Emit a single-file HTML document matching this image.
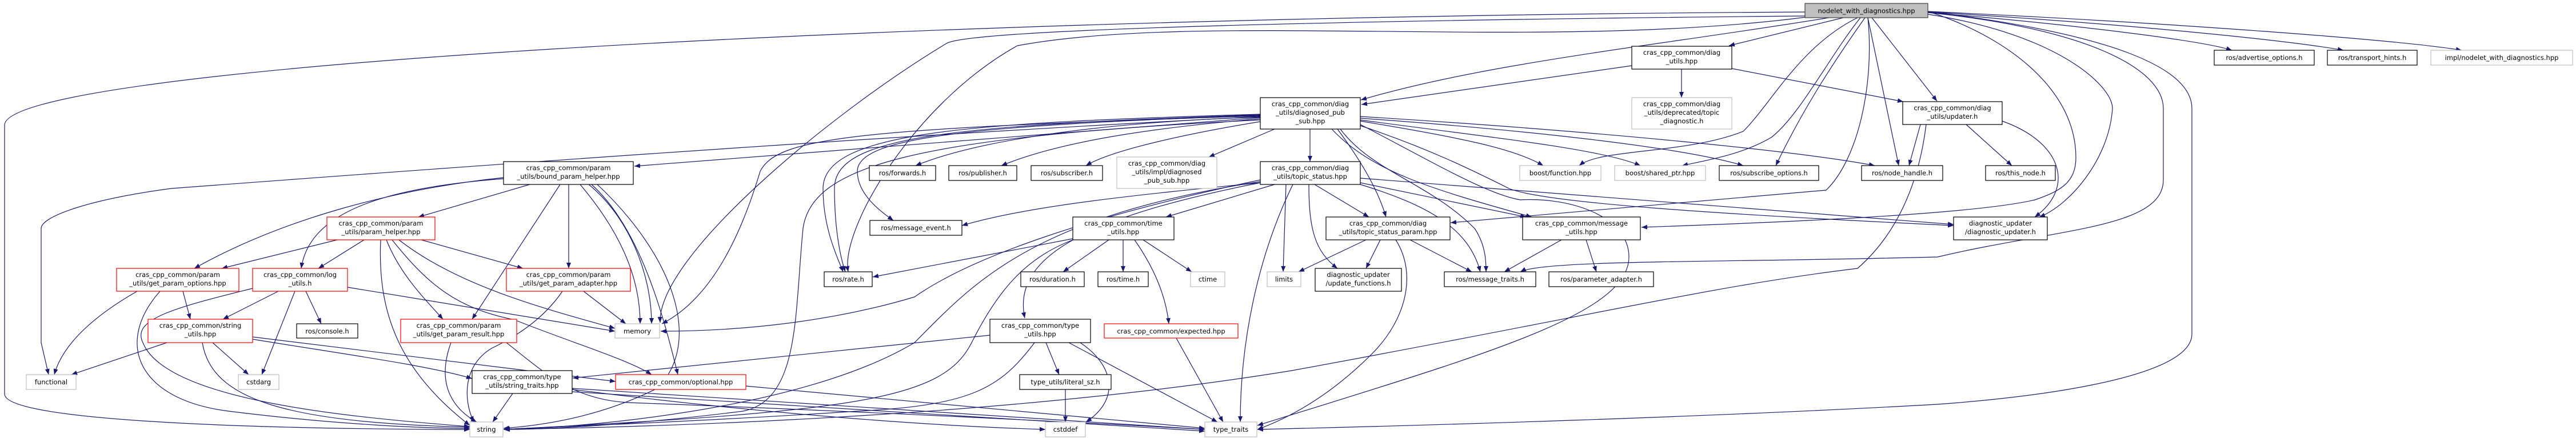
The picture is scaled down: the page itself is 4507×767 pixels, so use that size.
<!DOCTYPE html>
<html><head><meta charset="utf-8"><style>
html,body{margin:0;padding:0;background:#fff;}
svg{display:block;}
text{font-family:"DejaVu Sans","Liberation Sans",sans-serif;font-size:11.5px;fill:#000;text-anchor:middle;}
.e{fill:none;stroke:#191970;stroke-width:1.2;marker-end:url(#ah);}
.b{fill:#fff;stroke:#000;stroke-width:1.2;}
.g{fill:#fff;stroke:#bfbfbf;stroke-width:1.2;}
.r{fill:#fff;stroke:#ff0000;stroke-width:1.2;}
</style></head><body>
<svg width="4507" height="767" viewBox="0 0 4507 767" xmlns="http://www.w3.org/2000/svg">
<defs><marker id="ah" markerUnits="userSpaceOnUse" markerWidth="11" markerHeight="8" refX="10" refY="4" orient="auto"><path d="M0,0 L10,4 L0,8 z" fill="#191970"/></marker></defs>

<!-- edges from nodelet -->
<path class="e" d="M3158,21 C1500,30 0,120 8,220 L8,690 C8,740 500,752 822,752"/>
<path class="e" d="M3158,28 C2400,35 1700,50 1656,76 C1450,200 1150,450 1155,565"/>
<path class="e" d="M3160,30 C2700,90 2100,20 1780,80 C1600,180 1470,400 1484,476"/>
<path class="e" d="M3200,31 C2900,80 2600,110 2381,175"/>
<path class="e" d="M2855,115 L2382,183"/>
<path class="e" d="M3225,31 L3025,80"/>
<path class="e" d="M2942,121 L2942,171"/>
<path class="e" d="M3030,120 L3330,178"/>
<path class="e" d="M3250,31 C3150,80 3100,180 3050,230 C2950,270 2800,260 2763,290"/>
<path class="e" d="M3255,31 C3200,100 3150,200 3100,240 C3050,270 2990,280 2943,290"/>
<path class="e" d="M3263,31 C3200,120 3150,200 3107,290"/>
<path class="e" d="M3268,31 L3322,290"/>
<path class="e" d="M3275,31 L3389,177"/>
<path class="e" d="M3268,31 C3280,150 3250,280 3195,333 L2538,390"/>
<path class="e" d="M3373,20 C3500,60 3632,150 3632,276 C3632,320 3604,335 3560,350 C3450,376 3100,390 2872,398"/>
<path class="e" d="M3373,25 C3600,60 3696,150 3696,190 C3690,280 3620,360 3568,380"/>
<path class="e" d="M3503,212 C3610,250 3630,330 3560,380"/>
<path class="e" d="M3373,22 C3650,50 3785,120 3785,190 L3785,315 C3785,400 3600,400 3390,450 C3000,460 2700,455 2660,476"/>
<path class="e" d="M3373,20 C3700,60 3835,120 3835,190 L3835,585 C3835,670 3500,700 3390,708 C3000,730 2500,745 2200,752"/>
<path class="e" d="M3373,22 C3600,40 3850,70 3905,88"/>
<path class="e" d="M3373,21 C3700,40 4000,70 4100,88"/>
<path class="e" d="M3373,20 C3800,40 4200,70 4307,88"/>
<path class="e" d="M3370,218 C3360,300 3330,400 3250,470 C3000,500 2800,550 2260,649 C1700,740 1000,750 881,752"/>
<path class="e" d="M3360,218 L3340,290"/>
<path class="e" d="M3440,218 L3520,290"/>

<!-- diagnosed_pub_sub -->
<path class="e" d="M2292,226 L2292,283"/>
<path class="e" d="M2205,205 C1900,215 1700,250 1602,290"/>
<path class="e" d="M2205,208 C2000,225 1850,250 1752,290"/>
<path class="e" d="M2205,213 C2100,230 1950,260 1900,290"/>
<path class="e" d="M2230,226 L2115,275"/>
<path class="e" d="M2205,202 C1700,220 1500,240 1500,300 C1500,340 1540,370 1563,386"/>
<path class="e" d="M2205,200 C1700,215 1440,230 1440,330 C1440,400 1465,450 1475,476"/>
<path class="e" d="M2205,201 C1650,220 1460,240 1460,330 C1460,400 1470,450 1479,476"/>
<path class="e" d="M2205,203 C1500,225 1360,240 1330,300 C1300,400 1250,520 1158,567"/>
<path class="e" d="M2205,206 L1110,291"/>
<path class="e" d="M2205,204 C1500,240 700,300 300,330 C150,350 72,380 72,400 L72,600 L85,656"/>
<path class="e" d="M2205,210 C1600,240 1420,290 1405,400 C1390,550 1400,700 1300,720 C1100,745 950,752 882,752"/>
<path class="e" d="M2380,212 C2550,240 2650,260 2700,290"/>
<path class="e" d="M2380,210 C2600,240 2800,260 2870,290"/>
<path class="e" d="M2380,207 C2700,230 2950,260 3050,290"/>
<path class="e" d="M2380,204 C2800,230 3150,265 3280,290"/>
<path class="e" d="M2340,226 C2380,280 2410,330 2425,380"/>
<path class="e" d="M2330,226 C2400,300 2500,330 2680,380"/>
<path class="e" d="M2345,226 C2400,300 2500,320 2580,400 C2600,430 2600,460 2600,476"/>
<path class="e" d="M2380,220 C2500,260 2580,300 2640,330 C2700,355 3000,375 3418,395"/>
<path class="e" d="M2380,218 C2500,280 2600,340 2660,350 C2750,345 2850,380 2850,450 C2850,550 2600,620 2200,745"/>

<!-- topic_status -->
<path class="e" d="M2205,320 C2000,340 1800,360 1683,395"/>
<path class="e" d="M2230,323 L2040,380"/>
<path class="e" d="M2250,323 L2245,476"/>
<path class="e" d="M2290,323 C2290,400 2300,440 2340,470"/>
<path class="e" d="M2300,323 L2395,380"/>
<path class="e" d="M2380,320 L2670,380"/>
<path class="e" d="M2380,323 C2500,360 2570,400 2590,476"/>
<path class="e" d="M2380,312 L3418,393"/>
<path class="e" d="M2262,323 C2200,450 2170,600 2170,739"/>
<path class="e" d="M2205,318 C1800,380 1700,500 1600,600 C1400,720 1000,750 882,752"/>
<path class="e" d="M2205,315 C1900,380 1700,450 1600,520 C1400,580 1200,580 1156,580"/>
<path class="e" d="M2205,320 C1900,380 1770,450 1793,557"/>

<!-- time_utils -->
<path class="e" d="M1877,418 L1527,485"/>
<path class="e" d="M1940,420 L1860,476"/>
<path class="e" d="M1965,420 L1965,476"/>
<path class="e" d="M2000,420 L2085,476"/>
<path class="e" d="M1985,420 C2020,470 2040,520 2045,567"/>
<path class="e" d="M1877,420 C1800,450 1750,500 1700,600 C1650,700 1500,720 882,752"/>

<!-- type_utils -->
<path class="e" d="M1732,587 L1002,662"/>
<path class="e" d="M1810,600 C1750,680 1700,710 1500,720 C1200,740 900,750 882,752"/>
<path class="e" d="M1830,600 L1853,656"/>
<path class="e" d="M1890,600 C1950,640 1960,700 1900,739"/>
<path class="e" d="M1870,600 L2130,739"/>
<path class="e" d="M1864,682 L1864,739"/>
<path class="e" d="M2058,592 L2140,739"/>

<!-- topic_status_param / message_utils -->
<path class="e" d="M2390,420 L2272,476"/>
<path class="e" d="M2415,420 L2390,470"/>
<path class="e" d="M2467,420 L2575,476"/>
<path class="e" d="M2442,420 C2480,480 2460,560 2400,620 C2330,690 2260,730 2200,752"/>
<path class="e" d="M2732,420 L2632,476"/>
<path class="e" d="M2775,420 L2793,476"/>

<!-- bound_param_helper -->
<path class="e" d="M927,323 L732,380"/>
<path class="e" d="M881,311 C700,330 500,380 340,470"/>
<path class="e" d="M881,313 C650,330 540,380 527,470"/>
<path class="e" d="M995,323 L995,470"/>
<path class="e" d="M980,323 L826,559"/>
<path class="e" d="M1015,323 C1080,400 1120,480 1120,567"/>
<path class="e" d="M1030,323 C1100,380 1140,480 1140,567"/>
<path class="e" d="M1035,323 C1120,400 1160,550 1186,656"/>
<path class="e" d="M1045,323 C1180,450 1230,600 1150,680 C1050,730 950,745 881,750"/>

<!-- param_helper -->
<path class="e" d="M590,420 L388,470"/>
<path class="e" d="M637,420 L557,470"/>
<path class="e" d="M737,420 L915,470"/>
<path class="e" d="M676,420 C700,480 740,520 775,559"/>
<path class="e" d="M698,420 C800,500 950,540 1076,575"/>
<path class="e" d="M686,420 C750,500 800,540 900,560 C1000,600 1100,630 1140,656"/>
<path class="e" d="M666,420 C660,550 700,650 822,745"/>

<!-- get_param_options / log_utils / adapter -->
<path class="e" d="M240,510 C170,550 110,600 95,656"/>
<path class="e" d="M320,510 L333,559"/>
<path class="e" d="M280,510 C200,600 240,700 400,720 C600,745 750,750 822,750"/>
<path class="e" d="M487,510 L390,559"/>
<path class="e" d="M516,510 L458,656"/>
<path class="e" d="M535,510 L562,567"/>
<path class="e" d="M608,503 L1076,580"/>
<path class="e" d="M442,505 C300,540 230,560 250,600 C290,700 600,730 822,747"/>
<path class="e" d="M1021,510 L1095,567"/>
<path class="e" d="M984,510 C950,560 901,590 860,610 C810,640 810,700 829,739"/>

<!-- string_utils / result / traits / optional -->
<path class="e" d="M292,600 L125,656"/>
<path class="e" d="M372,600 L435,656"/>
<path class="e" d="M354,600 C370,700 500,740 822,748"/>
<path class="e" d="M442,594 C600,620 750,640 826,663"/>
<path class="e" d="M442,590 L1077,668"/>
<path class="e" d="M789,600 C760,680 800,720 834,739"/>
<path class="e" d="M886,600 C950,650 1000,700 1100,705 C1500,720 1900,740 2108,752"/>
<path class="e" d="M897,689 L862,739"/>
<path class="e" d="M1001,682 C1300,720 1600,745 1829,752"/>
<path class="e" d="M1001,680 L2108,752"/>
<path class="e" d="M1001,686 L2108,755"/>
<path class="e" d="M1305,676 L2108,750"/>

<!-- nodes -->
<rect x="3158" y="6" width="215" height="25" fill="#bfbfbf" stroke="#404040" stroke-width="1.2"/><text x="3265.5" y="23">nodelet_with_diagnostics.hpp</text>
<rect class="b" x="2855" y="81" width="175" height="40"/><text x="2942.5" y="96">cras_cpp_common/diag</text><text x="2942.5" y="111">_utils.hpp</text>
<rect class="g" x="2855" y="171" width="175" height="55"/><text x="2942.5" y="186">cras_cpp_common/diag</text><text x="2942.5" y="201">_utils/deprecated/topic</text><text x="2942.5" y="216">_diagnostic.h</text>
<rect class="b" x="3329" y="178" width="174" height="40"/><text x="3416" y="193">cras_cpp_common/diag</text><text x="3416" y="208">_utils/updater.h</text>
<rect class="b" x="2205" y="171" width="175" height="55"/><text x="2292.5" y="186">cras_cpp_common/diag</text><text x="2292.5" y="201">_utils/diagnosed_pub</text><text x="2292.5" y="216">_sub.hpp</text>
<rect class="b" x="3874" y="88" width="175" height="26"/><text x="3961.5" y="105">ros/advertise_options.h</text>
<rect class="b" x="4072" y="88" width="157" height="26"/><text x="4150.5" y="105">ros/transport_hints.h</text>
<rect class="g" x="4253" y="88" width="248" height="26"/><text x="4377" y="105">impl/nodelet_with_diagnostics.hpp</text>
<rect class="b" x="881" y="283" width="227" height="40"/><text x="994.5" y="298">cras_cpp_common/param</text><text x="994.5" y="313">_utils/bound_param_helper.hpp</text>
<rect class="b" x="1521" y="290" width="116" height="26"/><text x="1579" y="307">ros/forwards.h</text>
<rect class="b" x="1660" y="290" width="119" height="26"/><text x="1719.5" y="307">ros/publisher.h</text>
<rect class="b" x="1804" y="290" width="125" height="26"/><text x="1866.5" y="307">ros/subscriber.h</text>
<rect class="g" x="1954" y="275" width="175" height="55"/><text x="2041.5" y="290">cras_cpp_common/diag</text><text x="2041.5" y="305">_utils/impl/diagnosed</text><text x="2041.5" y="320">_pub_sub.hpp</text>
<rect class="b" x="2205" y="283" width="175" height="40"/><text x="2292.5" y="298">cras_cpp_common/diag</text><text x="2292.5" y="313">_utils/topic_status.hpp</text>
<rect class="g" x="2659" y="290" width="142" height="26"/><text x="2730" y="307">boost/function.hpp</text>
<rect class="g" x="2825" y="290" width="159" height="26"/><text x="2904.5" y="307">boost/shared_ptr.hpp</text>
<rect class="b" x="3008" y="290" width="174" height="26"/><text x="3095" y="307">ros/subscribe_options.h</text>
<rect class="b" x="3257" y="290" width="142" height="26"/><text x="3328" y="307">ros/node_handle.h</text>
<rect class="b" x="3474" y="290" width="122" height="26"/><text x="3535" y="307">ros/this_node.h</text>
<rect class="r" x="572" y="380" width="189" height="40"/><text x="666.5" y="395">cras_cpp_common/param</text><text x="666.5" y="410">_utils/param_helper.hpp</text>
<rect class="b" x="1522" y="386" width="161" height="26"/><text x="1602.5" y="403">ros/message_event.h</text>
<rect class="b" x="1877" y="380" width="177" height="40"/><text x="1965.5" y="395">cras_cpp_common/time</text><text x="1965.5" y="410">_utils.hpp</text>
<rect class="b" x="2320" y="380" width="217" height="40"/><text x="2428.5" y="395">cras_cpp_common/diag</text><text x="2428.5" y="410">_utils/topic_status_param.hpp</text>
<rect class="b" x="2664" y="380" width="206" height="40"/><text x="2767" y="395">cras_cpp_common/message</text><text x="2767" y="410">_utils.hpp</text>
<rect class="b" x="3418" y="380" width="164" height="40"/><text x="3500" y="395">diagnostic_updater</text><text x="3500" y="410">/diagnostic_updater.h</text>
<rect class="r" x="204" y="470" width="214" height="40"/><text x="311" y="485">cras_cpp_common/param</text><text x="311" y="500">_utils/get_param_options.hpp</text>
<rect class="r" x="442" y="470" width="166" height="40"/><text x="525" y="485">cras_cpp_common/log</text><text x="525" y="500">_utils.h</text>
<rect class="r" x="886" y="470" width="217" height="40"/><text x="994.5" y="485">cras_cpp_common/param</text><text x="994.5" y="500">_utils/get_param_adapter.hpp</text>
<rect class="b" x="1442" y="476" width="84" height="26"/><text x="1484" y="493">ros/rate.h</text>
<rect class="b" x="1786" y="476" width="111" height="26"/><text x="1841.5" y="493">ros/duration.h</text>
<rect class="b" x="1921" y="476" width="88" height="26"/><text x="1965" y="493">ros/time.h</text>
<rect class="g" x="2083" y="476" width="60" height="26"/><text x="2113" y="493">ctime</text>
<rect class="g" x="2217" y="476" width="59" height="26"/><text x="2246.5" y="493">limits</text>
<rect class="b" x="2301" y="470" width="151" height="40"/><text x="2376.5" y="485">diagnostic_updater</text><text x="2376.5" y="500">/update_functions.h</text>
<rect class="b" x="2527" y="476" width="160" height="26"/><text x="2607" y="493">ros/message_traits.h</text>
<rect class="b" x="2710" y="476" width="183" height="26"/><text x="2801.5" y="493">ros/parameter_adapter.h</text>
<rect class="r" x="259" y="559" width="183" height="41"/><text x="350.5" y="574">cras_cpp_common/string</text><text x="350.5" y="589">_utils.hpp</text>
<rect class="b" x="519" y="567" width="107" height="25"/><text x="572.5" y="584">ros/console.h</text>
<rect class="r" x="701" y="559" width="203" height="41"/><text x="802.5" y="574">cras_cpp_common/param</text><text x="802.5" y="589">_utils/get_param_result.hpp</text>
<rect class="g" x="1076" y="567" width="78" height="25"/><text x="1115" y="584">memory</text>
<rect class="b" x="1732" y="559" width="176" height="41"/><text x="1820" y="574">cras_cpp_common/type</text><text x="1820" y="589">_utils.hpp</text>
<rect class="r" x="1932" y="567" width="234" height="25"/><text x="2049" y="584">cras_cpp_common/expected.hpp</text>
<rect class="g" x="46" y="656" width="87" height="26"/><text x="89.5" y="673">functional</text>
<rect class="g" x="417" y="656" width="71" height="26"/><text x="452.5" y="673">cstdarg</text>
<rect class="b" x="826" y="649" width="175" height="40"/><text x="913.5" y="664">cras_cpp_common/type</text><text x="913.5" y="679">_utils/string_traits.hpp</text>
<rect class="r" x="1077" y="656" width="228" height="26"/><text x="1191" y="673">cras_cpp_common/optional.hpp</text>
<rect class="b" x="1784" y="656" width="160" height="26"/><text x="1864" y="673">type_utils/literal_sz.h</text>
<rect class="g" x="822" y="739" width="58" height="26"/><text x="851" y="756">string</text>
<rect class="g" x="1829" y="739" width="70" height="26"/><text x="1864" y="756">cstddef</text>
<rect class="g" x="2108" y="739" width="91" height="26"/><text x="2153.5" y="756">type_traits</text>
</svg>
</body></html>
